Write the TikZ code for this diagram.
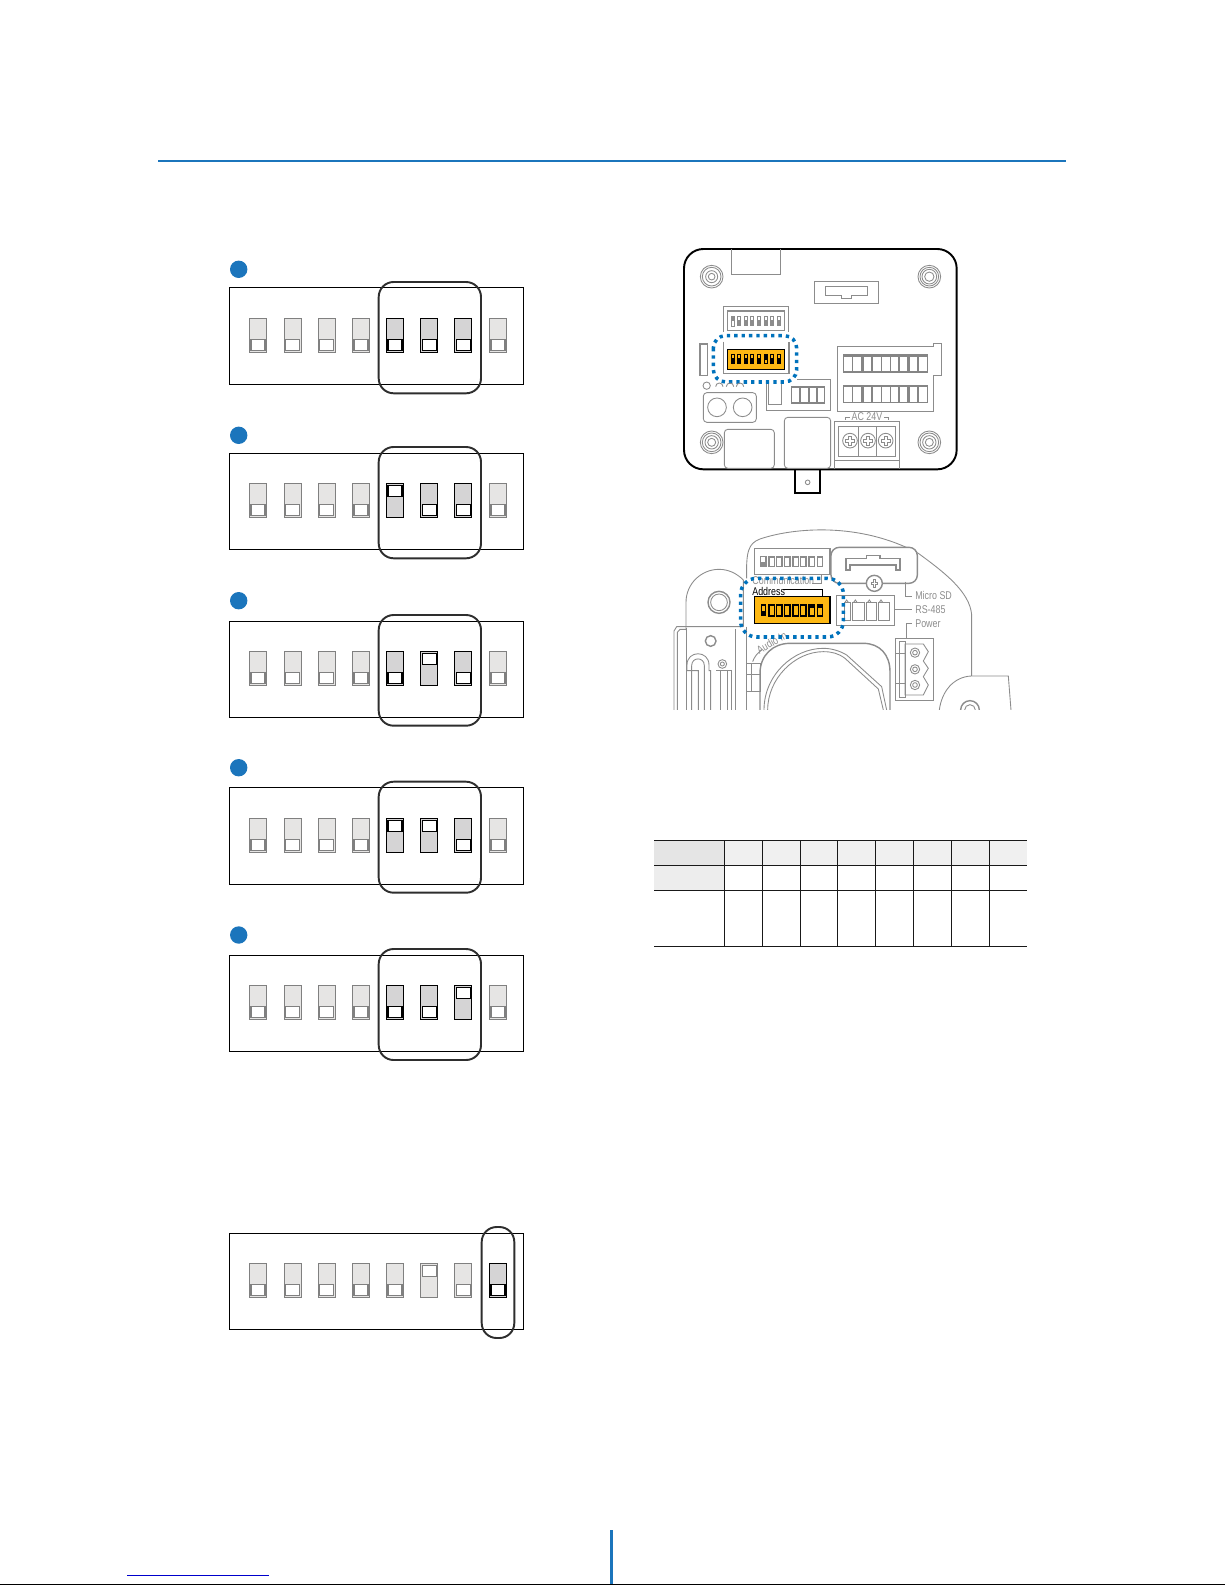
\documentclass[tikz,border=0pt]{standalone}
\usepackage{fontspec}
\usepackage{tikz}
\usetikzlibrary{positioning}
\usetikzlibrary{calc}
\newfontfamily\partfont[FakeStretch=0.79]{Liberation Sans}
\definecolor{rulebrand}{HTML}{1B75BC}
\definecolor{dotblue}{HTML}{0072BC}
\definecolor{partgray}{HTML}{8C8C8C}
\definecolor{offfill}{HTML}{E6E5E4}
\definecolor{onfill}{HTML}{D5D4D5}
\definecolor{amber}{HTML}{FDB813}
\tikzset{
  panelbox/.style={draw=black, line width=0.6pt},
  hilite/.style={draw=black!82, line width=1.1pt, rounded corners=8.5pt},
  swoff/.style={draw=black!50, fill=offfill, line width=0.55pt},
  swon/.style={draw=black, fill=onfill, line width=0.6pt},
  knoboff/.style={draw=black!50, fill=white, line width=0.6pt},
  knobon/.style={draw=black, fill=white, line width=0.7pt},
  part/.style={draw=partgray, line width=0.5pt},
  partbold/.style={draw=partgray, line width=0.8pt},
  celldark/.style={fill=black!48},
  cellwhite/.style={fill=white, draw=none},
  dotframe/.style={draw=dotblue, line width=2pt, dash pattern=on 1.9pt off 2.3pt},
  partlabel/.style={text=partgray, font=\partfont\fontsize{6.4}{7}\selectfont, inner sep=0pt},
  gridline/.style={draw=black!90, line width=0.6pt}
}
\newcommand{\dipsw}[5]{%
  \draw[#4] (#1-8.5,#2) rectangle (#1+8.5,#2+34);
  \draw[#5] (#1-7,#2+#3) rectangle (#1+7,#2+#3+11.5);
}
\newcommand{\boardpost}[4]{%
  \draw[part] (#1,#2) circle (34);
  \draw[part] (#1,#2) circle (28);
  \draw[part] (#1,#2) circle (#3);
  \draw[part] (#1,#2) circle (#4);
}
\begin{document}
\begin{tikzpicture}[x=0.02cm, y=-0.02cm]
\useasboundingbox (0,0) rectangle (1225,1585);

% header and footer rules
\draw[rulebrand, line width=1.3pt] (158,161) -- (1066,161);
\draw[rulebrand, line width=1.8pt] (611.7,1530) -- (611.7,1584);
\draw[black, line width=0.9pt] (0,1584.3) -- (1225,1584.3);
\draw[blue!80!black, line width=0.6pt] (127,1575.3) -- (269,1575.3);

% dip switch panels
\foreach \ya/\yb/\yc/\yd/\ye in {287.3/384.3/282/393.3/269.3, 453.3/549.3/447/558.3/435.3, 621.3/717.3/615/725.7/600.7, 787.3/884.3/781.7/892.7/767.7, 955.3/1051.3/949/1060/935}{
  \fill[rulebrand] (238.7,\ye) circle (8.7);
  \draw[panelbox] (229.3,\ya) rectangle (523.3,\yb);
  \draw[hilite] (378.7,\yc) rectangle (481,\yd);
}
\foreach \y/\ka/\kb/\kc in {318.3/21/21/21, 483.3/2/21/21, 651.3/21/2/21, 818.3/2/2/21, 985.3/21/21/2}{
  \foreach \sx in {258,292.6,326.6,361,498}{\dipsw{\sx}{\y}{21}{swoff}{knoboff}}
  \dipsw{395}{\y}{\ka}{swon}{knobon}
  \dipsw{429.3}{\y}{\kb}{swon}{knobon}
  \dipsw{463.3}{\y}{\kc}{swon}{knobon}
}

% address panel
\draw[panelbox] (229.3,1233.3) rectangle (523.3,1329.3);
\foreach \sx in {258,292.6,326.6,361,395,463.3}{\dipsw{\sx}{1263.3}{21}{swoff}{knoboff}}
\dipsw{429.3}{1263.3}{2}{swoff}{knoboff}
\dipsw{498}{1263.3}{21}{swon}{knobon}
\draw[hilite] (481.7,1227) rectangle (514.3,1338);

% table
\fill[black!10] (654,840.3) rectangle (724.3,865.3);
\fill[black!6] (724.3,840.3) rectangle (1027,865.3);
\fill[black!7] (654,865.3) rectangle (724.3,890.3);
\foreach \ty in {840.3,865.3,890.3,946.7}{\draw[gridline] (654,\ty) -- (1027,\ty);}
\foreach \tx in {724.3,762.3,800.3,837.3,875.3,913.3,951.3,989.7}{\draw[gridline] (\tx,840.3) -- (\tx,946.7);}

% housing seen from the back
\begin{scope}[shift={(660,230)}, x=0.02cm/3, y=-0.02cm/3]
\draw[black, line width=1.1pt, rounded corners=11pt] (72,57) rectangle (890,718);
\draw[partbold] (215,57) -- (215,134) -- (361,134) -- (361,57);
\boardpost{155}{140}{18}{10}
\boardpost{808}{140}{22}{14}
\boardpost{155}{637}{20}{12}
\boardpost{808}{637}{20}{12}
\draw[partbold] (463,154) rectangle (655,220);
\draw[partbold] (497,169) -- (622,169) -- (622,196) -- (575,196) -- (575,205) -- (545,205) -- (545,196) -- (497,196) -- cycle;
% upper switch
\draw[partbold] (191,305) -- (191,229) -- (385,229) -- (385,305);
\draw[partbold] (202,243) rectangle (374,302);
\draw[partbold] (191,335) -- (191,430) -- (387,430) -- (387,335);
\draw[part, fill=white] (214,258) rectangle (224,288);
\fill[partgray] (214,258) rectangle (224,272);
\foreach \sx in {237,257,276,296,317,336,356}{
  \fill[partgray] (\sx-6,258) rectangle (\sx+6,288);
  \fill[white] (\sx-2.5,261) rectangle (\sx+2.5,270);
}
% orange switch
\draw[black, line width=0.7pt, fill=amber] (202,358) rectangle (374,418);
\foreach \sx/\wa in {219/376,237/376,257/376,276/376,296/376,317/390,336/376,356/376}{
  \fill[black] (\sx-6,372) rectangle (\sx+6,402);
  \fill[amber] (\sx-2.5,\wa) rectangle (\sx+2.5,\wa+9);
}
\draw[dotframe, rounded corners=7pt] (160,317) rectangle (410,456);
% left parts
\draw[partbold] (118,342) rectangle (142,436);
\draw[part] (122,342) -- (122,436);
\draw[part] (140,467) circle (11);
\draw[part] (167,470) arc (180:360:11);
\draw[part] (199,470) arc (180:360:11);
\draw[part] (229,470) arc (180:360:11);
\draw[part, rounded corners=2pt] (130,488) rectangle (289,577);
\draw[part] (171,532) circle (28);
\draw[part] (248,532) circle (28);
% small terminal
\draw[part] (320,462) -- (320,541) -- (512,541) -- (512,448) -- (410,448);
\draw[part] (326,462) -- (326,522) -- (364,522) -- (364,462);
\fill[celldark] (393,468) rectangle (494,521);
\foreach \xa/\xb in {397/417,423/443,449/469,473/491}{\fill[cellwhite] (\xa,475) rectangle (\xb,517);}
% large terminal
\draw[partbold] (532,350) -- (820,350) -- (820,341) -- (845,341) -- (845,436) -- (820,436) -- (820,545) -- (532,545) -- cycle;
\foreach \ry in {373,465}{
  \fill[celldark] (549,\ry) rectangle (804,\ry+55);
  \foreach \xa/\xb in {553/575,580/604,612/634,640/662,667/689,693/715,720/742,750/772,777/800}{\fill[cellwhite] (\xa,\ry+7) rectangle (\xb,\ry+51);}
}
% power block
\draw[part] (555,569) -- (555,562) -- (570,562);
\draw[part] (672,562) -- (685,562) -- (685,569);
\node[partlabel] (ac24) at (621,561) {AC 24V};
\draw[partbold] (523,718) -- (523,575) -- (718,575) -- (718,718);
\draw[part] (523,690) -- (718,690);
\draw[partbold] (535,590) rectangle (707,680);
\draw[part] (595,590) -- (595,680);
\draw[part] (650,590) -- (650,680);
\foreach \sx in {570,624,677}{
  \draw[part] (\sx,632) circle (22);
  \draw[part] (\sx-14,628) -- (\sx-4,628) -- (\sx-4,618) -- (\sx+4,618) -- (\sx+4,628) -- (\sx+14,628) -- (\sx+14,636) -- (\sx+4,636) -- (\sx+4,646) -- (\sx-4,646) -- (\sx-4,636) -- (\sx-14,636) -- cycle;
}
\draw[part, rounded corners=2pt] (193,598) rectangle (343,715);
\draw[part, rounded corners=2pt] (373,562) rectangle (512,715);
% bracket
\draw[black, line width=1.1pt] (406,718) -- (406,790) -- (480,790) -- (480,718);
\draw[part] (443,757) circle (7);
\end{scope}

% dome base seen from above
\begin{scope}[shift={(660,515)}, x=0.02cm/3, y=-0.02cm/3]
\clip (0,0) rectangle (1110,585);
\draw[part] (260,190) .. controls (258,110) and (265,85) .. (300,72) .. controls (400,38) and (600,20) .. (775,115) .. controls (850,170) and (930,230) .. (935,300) -- (935,483);
\draw[partbold, fill=white] (283,100) rectangle (510,178);
\draw[partbold, fill=white, rounded corners=4.7pt] (513,97) rectangle (772,205);
\draw[partbold] (558,130) -- (620,130) -- (620,122) -- (660,122) -- (660,130) -- (720,130) -- (720,165) -- (708,165) -- (708,150) -- (570,150) -- (570,165) -- (558,165) -- cycle;
\draw[partbold, fill=white] (643,205) circle (24);
\draw[part] (633,201) -- (639,201) -- (639,194) -- (647,194) -- (647,201) -- (653,201) -- (653,209) -- (647,209) -- (647,216) -- (639,216) -- (639,209) -- (633,209) -- cycle;
\draw[part] (737,200) -- (737,243) -- (757,243);
\node[partlabel, anchor=west] (microsd) at (765,241) {Micro SD};
% upper switch
\foreach \sx in {335,358,382,407,430,455,480}{
  \draw[partbold, fill=white] (\sx-8,124) rectangle (\sx+8,154);
  \fill[partgray] (\sx-8,124) rectangle (\sx+8,130);
}
\draw[partbold, fill=white] (302,124) rectangle (318,154);
\fill[partgray] (302,140) rectangle (318,154);
\draw[part] (457,205) -- (485,205) -- (485,180);
\node[partlabel] (commlabel) at (370,197) {Communication};
\node[partlabel, text=black] (addresslabel) at (326,229) {Address};
\draw[black, line width=0.6pt] (370,223) -- (487,223) -- (487,245);
% orange switch
\draw[black, line width=0.8pt, fill=amber] (283,245) rectangle (510,325);
\foreach \sx/\kh in {335/6,358/6,382/6,407/6,430/6,455/12,480/12}{
  \draw[black, line width=0.6pt] (\sx-8,268) rectangle (\sx+8,303);
  \fill[black] (\sx-8,268) rectangle (\sx+8,268+\kh);
}
\fill[black] (302,268) rectangle (318,303);
\fill[amber] (306,272) rectangle (314,288);
% rs485
\draw[part] (530,241) rectangle (703,331);
\foreach \xa/\xb in {552/572,578/612,620/650,655/688}{
  \draw[part] (\xa,262) rectangle (\xb,316);
  \draw[part] (\xa+3,262) -- (\xa+8,255) -- (\xa+13,262);
}
\draw[part] (703,283) -- (757,283);
\node[partlabel, anchor=west] (rslabel) at (765,283) {RS-485};
\draw[part] (738,370) -- (738,326) -- (757,326);
\node[partlabel, anchor=west] (powerlabel) at (765,326) {Power};
% power plug
\draw[partbold] (706,370) rectangle (820,556);
\draw[part] (718,380) rectangle (735,548);
\draw[part] (735,387) -- (790,387) -- (805,410) -- (790,438) -- (805,460) -- (790,485) -- (805,510) -- (790,540) -- (735,540) -- cycle;
\draw[part] (706,415) -- (735,415);
\draw[part] (706,505) -- (735,505);
\foreach \py in {413,463,510}{
  \draw[part] (765,\py) circle (14);
  \draw[part] (765,\py) circle (7);
}
% left post
\draw[part] (78,345) -- (78,262) .. controls (78,205) and (125,163) .. (177,163) .. controls (205,163) and (230,175) .. (250,195) -- (250,335);
\draw[partbold] (177,262) circle (33);
\draw[part] (177,262) circle (25);
\draw[part] (42,585) -- (42,348) -- (50,335) -- (250,335);
\draw[part] (52,585) -- (52,352) -- (60,343) -- (78,343);
\draw[part] (78,340) -- (78,585);
\draw[partbold] (227,343) -- (227,585);
\draw[partbold] (152,378) circle (16);
\draw[part] (95,585) -- (95,467) -- (81,467) -- (81,450) .. controls (81,405) and (147,405) .. (147,450) -- (147,467) -- (152,467) -- (152,585);
\draw[part] (115,585) -- (115,467) -- (95,467) -- (95,452) .. controls (95,425) and (133,425) .. (133,452) -- (133,585);
\draw[part] (187,447) circle (13);
\draw[part] (187,447) circle (6);
\draw[part] (168,465) -- (215,465);
\draw[part] (180,465) -- (180,585);
\draw[part] (203,465) -- (203,585);
\draw[part] (215,465) -- (215,585);
% round chamber
\draw[part] (260,335) -- (260,585);
\draw[partbold] (300,585) -- (300,475) .. controls (300,420) and (340,385) .. (390,385) -- (610,385) .. controls (660,385) and (690,420) .. (690,470) -- (690,585);
\draw[part] (312,585) .. controls (312,480) and (400,400) .. (490,400) .. controls (515,400) and (540,408) .. (560,420) -- (665,515) -- (680,585);
\draw[part] (323,585) .. controls (323,490) and (405,410) .. (490,410) .. controls (515,410) and (535,415) .. (555,430) -- (655,522) -- (670,585);
\draw[part] (260,444) -- (300,444) -- (300,479) -- (260,479);
\draw[part] (275,444) -- (275,530);
\draw[part] (275,479) -- (302,479) -- (302,529) -- (260,529);
\draw[part] (278,440) .. controls (283,425) and (292,415) .. (305,405);
\node[partlabel, rotate=30] (audiolabel) at (335,383) {Audio In};
% right post
\draw[part] (838,585) .. controls (845,530) and (880,485) .. (935,483) -- (1045,483) -- (1053,585);
\draw[partbold] (930,585) circle (28);
\draw[part] (930,585) circle (16);
\draw[dotframe, rounded corners=9pt] (242,190) rectangle (550,366);
\end{scope}
\end{tikzpicture}
\end{document}
